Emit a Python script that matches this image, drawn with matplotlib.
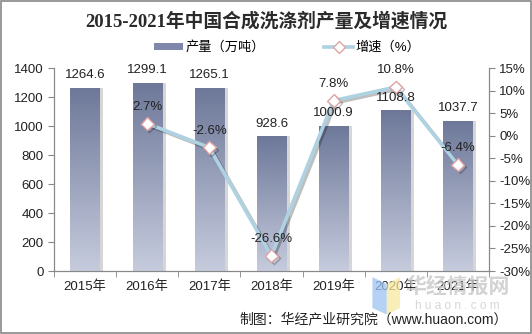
import matplotlib.pyplot as plt
import matplotlib.patheffects as pe
from matplotlib.lines import Line2D
from matplotlib.patches import Patch, Rectangle, Polygon
from matplotlib.colors import LinearSegmentedColormap
import numpy as np

plt.rcParams['font.family'] = ['Liberation Sans', 'Noto Sans CJK SC', 'DejaVu Sans']

years = ['2015年', '2016年', '2017年', '2018年', '2019年', '2020年', '2021年']
output = [1264.6, 1299.1, 1265.1, 928.6, 1000.9, 1108.8, 1037.7]
growth_years = [1, 2, 3, 4, 5, 6]
growth = [2.7, -2.6, -26.6, 7.8, 10.8, -6.4]

bar_top = '#6d7899'
bar_bot = '#c6cbdd'
line_col = '#afd2e3'
txt = '#222222'

fig = plt.figure(figsize=(5.32, 3.34), dpi=100)
ax = fig.add_axes([0.1015, 0.1886, 0.8175, 0.6074])
ax2 = ax.twinx()

x = np.arange(len(years))
ax.set_xlim(-0.5, len(years) - 0.5)
ax.set_ylim(0, 1400)

# shadow behind bars
ax.bar(x + 0.06, output, width=0.47, color='#000000', alpha=0.16, zorder=1)
bars = ax.bar(x, output, width=0.47, color='none', zorder=2)

# vertical gradient for each bar
grad = np.linspace(0, 1, 256).reshape(-1, 1)
cmap = LinearSegmentedColormap.from_list('bar', [bar_bot, bar_top])
for b in bars:
    x0 = b.get_x()
    x1 = x0 + b.get_width()
    h = b.get_height()
    im = ax.imshow(grad, extent=[x0, x1, 0, h], origin='lower', cmap=cmap,
                   aspect='auto', zorder=3, interpolation='bicubic')
    im.set_clip_path(b)
ax.set_xlim(-0.5, len(years) - 0.5)
ax.set_ylim(0, 1400)

# growth line
ax2.set_ylim(-30, 15)
ax2.plot(growth_years, growth, color=line_col, lw=2.6, zorder=4,
         marker='D', markersize=6.5, markerfacecolor='white',
         markeredgecolor='#e0a3a3', markeredgewidth=1.0,
         path_effects=[pe.SimpleLineShadow(offset=(1.5, -1.5), alpha=0.25), pe.Normal()])

# labels on top of everything
for xi, v in zip(x, output):
    ax2.text(xi, v + 45, f'{v:.1f}', transform=ax.transData, ha='center', va='bottom',
             fontsize=9.5, color=txt, zorder=6)
for xi, g in zip(growth_years, growth):
    ax2.text(xi, g + 2.4, f'{g:.1f}%', ha='center', va='bottom', fontsize=9.5,
             color=txt, zorder=6)

# axes styling
ax.set_yticks(np.arange(0, 1401, 200))
ax2.set_yticks(np.arange(-30, 16, 5))
ax2.set_yticklabels([f'{t}%' for t in range(-30, 16, 5)])
ax.set_xticks(x)
ax.set_xticklabels(years, fontsize=9.5, color=txt)
ax.set_xticks(np.arange(-0.5, len(years), 1), minor=True)
ax.tick_params(axis='x', which='major', length=0, pad=7)
ax.tick_params(axis='x', which='minor', length=4, color='#888888')
ax.tick_params(axis='y', length=4, color='#888888', labelsize=9.5, labelcolor=txt)
ax2.tick_params(axis='y', length=4, color='#888888', labelsize=9.5, labelcolor=txt)
for a in (ax, ax2):
    a.spines['top'].set_visible(False)
    for s in ('left', 'right', 'bottom'):
        a.spines[s].set_color('#888888')
        a.spines[s].set_linewidth(0.8)

# title and legend
fig.text(0.5, 0.935, '2015-2021年中国合成洗涤剂产量及增速情况', ha='center', va='center',
         fontsize=13.5, fontweight='bold', color='#2b2b2b',
         family=['Liberation Serif', 'Noto Sans CJK SC'])
handles = [Patch(facecolor='#7f88aa', edgecolor='none'),
           Line2D([0], [0], color=line_col, lw=2.6, marker='D', markersize=6,
                  markerfacecolor='white', markeredgecolor='#e0a3a3')]
fig.legend(handles, ['产量（万吨）', '增速（%）'], loc='center', bbox_to_anchor=(0.54, 0.857),
           ncol=2, frameon=False, fontsize=9.5, handlelength=2.2, handleheight=0.5,
           columnspacing=4.5, handletextpad=0.2)

# watermark
fig.patches.append(Polygon([[0.700, 0.170], [0.727, 0.150], [0.727, 0.058], [0.700, 0.078]],
                           closed=True, transform=fig.transFigure, facecolor='#9cc3f2', alpha=0.75, zorder=0))
fig.patches.append(Polygon([[0.727, 0.150], [0.752, 0.170], [0.752, 0.078], [0.727, 0.058]],
                           closed=True, transform=fig.transFigure, facecolor='#f7e7a0', alpha=0.75, zorder=0))
fig.text(0.86, 0.142, '华经情报网', ha='center', va='center', fontsize=15,
         fontweight='bold', color='#c8c8c8', alpha=0.8, zorder=0)
fig.text(0.86, 0.083, 'h u a o n . c o m', ha='center', va='center', fontsize=8.5,
         color='#d6d6d6', zorder=0)

fig.text(0.955, 0.045, '制图：华经产业研究院（www.huaon.com）', ha='right', va='center',
         fontsize=10, color=txt)

fig.patches.append(Rectangle((0.002, 0.003), 0.996, 0.994, transform=fig.transFigure,
                             fill=False, edgecolor='#888888', lw=1.2))

fig.savefig('out.png', dpi=100)
